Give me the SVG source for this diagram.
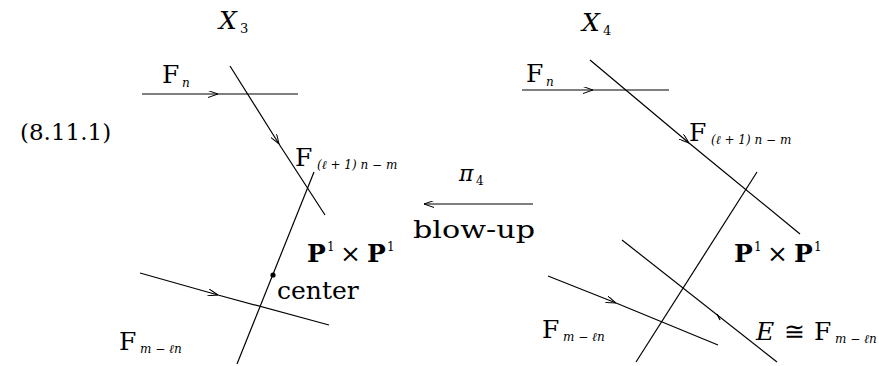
<svg xmlns="http://www.w3.org/2000/svg" width="879" height="366" viewBox="0 0 879 366">
<style>
.t text{fill:#000}
.m{font-size:25px}
.i{font-style:italic}
.s{font-size:12px;font-style:italic}
.b{font-weight:bold}
.ln{stroke:#000;stroke-width:1.2;fill:none}
</style>
<defs>
<marker id="ah" viewBox="0 0 10 7" refX="10" refY="3.5" markerWidth="10" markerHeight="7" markerUnits="userSpaceOnUse" orient="auto">
<path d="M0,0 L10,3.5 L0,7" fill="none" stroke="#000" stroke-width="1"/>
</marker>
</defs>
<g id="connectors">
<path class="ln" d="M142,94 L218,94 L298,94" marker-mid="url(#ah)"/>
<path class="ln" d="M230,66 L279,144 L325,215" marker-mid="url(#ah)"/>
<path class="ln" d="M314,172 L237,364"/>
<path class="ln" d="M140,273 L218,295 L329,325" marker-mid="url(#ah)"/>
<circle cx="273" cy="275" r="2.6" fill="#000"/>
<path class="ln" d="M533,204 L424,204" marker-end="url(#ah)"/>
<path class="ln" d="M522,90 L593,90 L669,90" marker-mid="url(#ah)"/>
<path class="ln" d="M590,60 L689,143 L800,234" marker-mid="url(#ah)"/>
<path class="ln" d="M757,172 L636,362"/>
<path class="ln" d="M622,240 L777,362"/>
<path class="ln" d="M717,314 L720,320"/>
<path class="ln" d="M548,276 L616,303 L718,345" marker-mid="url(#ah)"/>
</g>
<g class="t" font-family="'DejaVu Serif','Liberation Serif','Times New Roman',serif">
<g id="label-eq"><text x="20" y="140" font-size="23">(8.11.1)</text></g>
<g id="label-x3"><text class="m i" x="219" y="29">X</text><text x="240" y="33" font-size="13">3</text></g>
<g id="label-fn-left"><text class="m" x="162" y="83">F</text><text class="s" x="182" y="87" font-size="14">n</text></g>
<g id="label-fl-left"><text class="m" x="295" y="166">F</text><text class="s" x="317" y="169">(ℓ + 1) n − m</text></g>
<g id="label-pp-left"><text class="m b" x="307" y="262">P</text><text x="327" y="251" font-size="12">1</text><text class="m" x="340" y="262">×</text><text class="m b" x="367" y="262">P</text><text x="387" y="251" font-size="12">1</text></g>
<g id="label-center"><text class="m" x="277" y="299">center</text></g>
<g id="label-fm-left"><text class="m" x="119" y="350">F</text><text class="s" x="140" y="353" font-size="14">m − ℓn</text></g>
<g id="label-pi"><text class="i" x="459" y="181" font-size="22">π</text><text x="476" y="185" font-size="12">4</text></g>
<g id="label-blowup"><text class="m" x="413" y="238" font-size="26" textLength="122" lengthAdjust="spacingAndGlyphs">blow-up</text></g>
<g id="label-x4"><text class="m i" x="582" y="31">X</text><text x="603" y="35" font-size="13">4</text></g>
<g id="label-fn-right"><text class="m" x="526" y="82">F</text><text class="s" x="546" y="86" font-size="14">n</text></g>
<g id="label-fl-right"><text class="m" x="689" y="141">F</text><text class="s" x="711" y="144">(ℓ + 1) n − m</text></g>
<g id="label-pp-right"><text class="m b" x="734" y="262">P</text><text x="754" y="251" font-size="12">1</text><text class="m" x="767" y="262">×</text><text class="m b" x="794" y="262">P</text><text x="814" y="251" font-size="12">1</text></g>
<g id="label-fm-right"><text class="m" x="542" y="338">F</text><text class="s" x="563" y="341" font-size="13">m − ℓn</text></g>
<g id="label-e"><text class="m i" x="756" y="340">E</text><text class="m" x="784" y="340">≅</text><text class="m" x="814" y="340">F</text><text class="s" x="835" y="343" font-size="11">m − ℓn</text></g>
</g>
</svg>
